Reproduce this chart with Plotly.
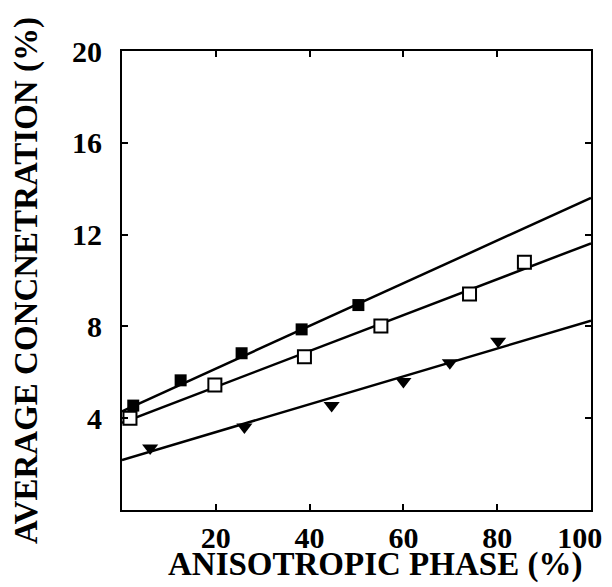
import plotly.graph_objects as go

# Data
filled_x = [2.4, 12.5, 25.5, 38.3, 50.4]
filled_y = [4.55, 5.65, 6.83, 7.87, 8.93]

open_x = [1.7, 19.8, 38.9, 55.2, 74.1, 85.8]
open_y = [4.0, 5.45, 6.68, 8.02, 9.41, 10.79]

tri_x = [6.0, 26.1, 44.7, 60.0, 69.9, 80.2]
tri_y = [2.7, 3.62, 4.55, 5.6, 6.42, 7.35]

fit_x = [0, 100]
fit_filled = [4.3, 13.6]
fit_open = [3.8, 11.62]
fit_tri = [2.18, 8.25]

x_ticks = [20, 40, 60, 80, 100]
x_labels = ["20", "40", "60", "80", "100\u00a0\u00a0\u00a0"]
y_ticks = [4, 8, 12, 16, 20]
y_labels = ["4", "8", "12", "16", "20"]

x_title = "ANISOTROPIC PHASE (%)"
y_title = "AVERAGE CONCNETRATION (%)"

FONT = "Liberation Serif"
fig = go.Figure()

line_style = dict(color="black", width=2.5)
for ys in (fit_filled, fit_open, fit_tri):
    fig.add_trace(go.Scatter(x=fit_x, y=ys, mode="lines", line=line_style,
                             showlegend=False, hoverinfo="skip"))

fig.add_trace(go.Scatter(x=filled_x, y=filled_y, mode="markers", showlegend=False,
                         marker=dict(symbol="square", size=12, color="black")))
fig.add_trace(go.Scatter(x=open_x, y=open_y, mode="markers", showlegend=False,
                         marker=dict(symbol="square", size=13, color="white",
                                     line=dict(color="black", width=2))))
fig.add_trace(go.Scatter(x=tri_x, y=tri_y, mode="markers", showlegend=False,
                         marker=dict(symbol="triangle-down", size=14, color="black")))

axis_common = dict(showline=True, linecolor="black", linewidth=2, mirror="ticks",
                   ticks="inside", ticklen=6, tickwidth=2, tickcolor="black",
                   showgrid=False, zeroline=False, ticklabeloverflow="allow",
                   tickfont=dict(family=FONT, size=30, color="black", weight="bold"))

fig.update_xaxes(range=[0, 100], tickvals=x_ticks, ticktext=x_labels,
                 **axis_common)
fig.update_yaxes(range=[0, 20], tickvals=y_ticks, ticktext=y_labels,
                 ticklabelstandoff=12,
                 title=dict(text=y_title, standoff=40,
                            font=dict(family=FONT, size=33, color="black", weight="bold")),
                 **axis_common)

fig.add_annotation(text=x_title, xref="paper", yref="paper", x=0.539, y=-0.118,
                   xanchor="center", yanchor="middle", showarrow=False,
                   font=dict(family=FONT, size=33, color="black", weight="bold"))

# The page body adds an 8px offset, so the figure is sized to fit the window.
fig.update_layout(width=604, height=579, plot_bgcolor="white", paper_bgcolor="white",
                  margin=dict(l=114, r=21, t=43, b=77, autoexpand=False))

fig.write_html("out.html")
